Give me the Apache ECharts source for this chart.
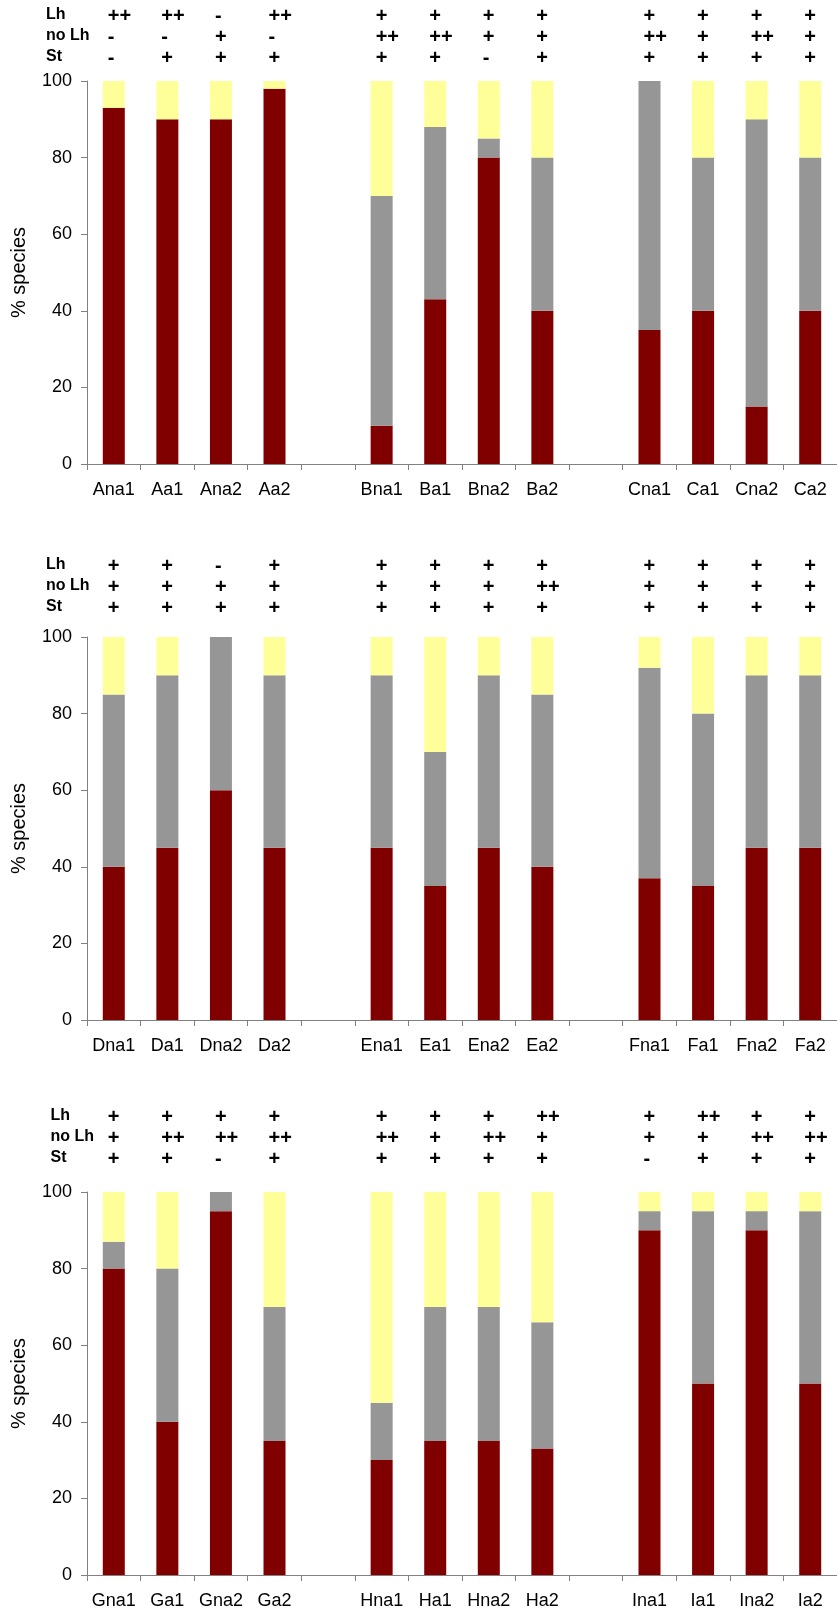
<!DOCTYPE html>
<html>
<head>
<meta charset="utf-8">
<script src="https://cdn.jsdelivr.net/npm/echarts@6/dist/echarts.min.js"></script>
<style>
  html, body { margin: 0; padding: 0; background: #fff; }
  #chart { width: 837px; height: 1613px; }
</style>
</head>
<body>
<div id="chart"></div>
<script>
// Category names per panel; blank entries leave a spacer slot between groups
const categories1 = ['Ana1', 'Aa1', 'Ana2', 'Aa2', ' ', 'Bna1', 'Ba1', 'Bna2', 'Ba2', '  ', 'Cna1', 'Ca1', 'Cna2', 'Ca2'];
const categories2 = ['Dna1', 'Da1', 'Dna2', 'Da2', ' ', 'Ena1', 'Ea1', 'Ena2', 'Ea2', '  ', 'Fna1', 'Fa1', 'Fna2', 'Fa2'];
const categories3 = ['Gna1', 'Ga1', 'Gna2', 'Ga2', ' ', 'Hna1', 'Ha1', 'Hna2', 'Ha2', '  ', 'Ina1', 'Ia1', 'Ina2', 'Ia2'];

// Stacked segment sizes (% species): bottom (dark red), middle (grey), top (yellow)
const red1    = [93, 90, 90, 98, '-', 10, 43, 80, 40, '-', 35, 40, 15, 40];
const grey1   = [0, 0, 0, 0, '-', 60, 45, 5, 40, '-', 65, 40, 75, 40];
const yellow1 = [7, 10, 10, 2, '-', 30, 12, 15, 20, '-', 0, 20, 10, 20];

const red2    = [40, 45, 60, 45, '-', 45, 35, 45, 40, '-', 37, 35, 45, 45];
const grey2   = [45, 45, 40, 45, '-', 45, 35, 45, 45, '-', 55, 45, 45, 45];
const yellow2 = [15, 10, 0, 10, '-', 10, 30, 10, 15, '-', 8, 20, 10, 10];

const red3    = [80, 40, 95, 35, '-', 30, 35, 35, 33, '-', 90, 50, 90, 50];
const grey3   = [7, 40, 5, 35, '-', 15, 35, 35, 33, '-', 5, 45, 5, 45];
const yellow3 = [13, 20, 0, 30, '-', 55, 30, 30, 34, '-', 5, 5, 5, 5];

// Symbol rows above each bar (Lh / no Lh / St), one entry per category slot
const lh1   = ['++', '++', '-', '++', '', '+', '+', '+', '+', '', '+', '+', '+', '+'];
const noLh1 = ['-', '-', '+', '-', '', '++', '++', '+', '+', '', '++', '+', '++', '+'];
const st1   = ['-', '+', '+', '+', '', '+', '+', '-', '+', '', '+', '+', '+', '+'];

const lh2   = ['+', '+', '-', '+', '', '+', '+', '+', '+', '', '+', '+', '+', '+'];
const noLh2 = ['+', '+', '+', '+', '', '+', '+', '+', '++', '', '+', '+', '+', '+'];
const st2   = ['+', '+', '+', '+', '', '+', '+', '+', '+', '', '+', '+', '+', '+'];

const lh3   = ['+', '+', '+', '+', '', '+', '+', '+', '++', '', '+', '++', '+', '+'];
const noLh3 = ['+', '++', '++', '++', '', '++', '+', '++', '+', '', '+', '+', '++', '++'];
const st3   = ['+', '+', '-', '+', '', '+', '+', '+', '+', '', '-', '+', '+', '+'];

const yTicks = [0, 20, 40, 60, 80, 100];
const rowNames = ['Lh', 'no Lh', 'St'];

const FONT = "'Liberation Sans', Arial, sans-serif";
const AXIS_GREY = '#808080';
const COLORS = ['#800000', '#969696', '#FFFF99'];

const panels = [
  { cats: categories1, red: red1, grey: grey1, yellow: yellow1, rows: [lh1, noLh1, st1], top: 81, rowOffsets: [-65, -44, -23], labelX: 46 },
  { cats: categories2, red: red2, grey: grey2, yellow: yellow2, rows: [lh2, noLh2, st2], top: 637, rowOffsets: [-71, -50, -29], labelX: 46 },
  { cats: categories3, red: red3, grey: grey3, yellow: yellow3, rows: [lh3, noLh3, st3], top: 1192, rowOffsets: [-75, -54, -33], labelX: 50.5 }
];
const PLOT_H = 383;

const grids = [], xAxes = [], yAxes = [], series = [], graphics = [];

panels.forEach((p, k) => {
  grids.push({ left: 87, top: p.top, width: 751, height: PLOT_H, containLabel: false });
  xAxes.push({
    type: 'category', gridIndex: k, data: p.cats,
    axisLine: { lineStyle: { color: AXIS_GREY, width: 1 } },
    axisTick: { show: true, length: 6, interval: 0, lineStyle: { color: AXIS_GREY } },
    axisLabel: { interval: 0, color: '#000', fontFamily: FONT, fontSize: 18, margin: 17 },
    splitLine: { show: false }
  });
  yAxes.push({
    type: 'value', gridIndex: k, min: yTicks[0], max: yTicks[yTicks.length - 1], interval: 20,
    name: '% species', nameLocation: 'middle', nameGap: 58, nameRotate: 90,
    nameTextStyle: { color: '#000', fontFamily: FONT, fontSize: 20 },
    axisLine: { show: true, lineStyle: { color: AXIS_GREY, width: 1 } },
    axisTick: { show: true, length: 6, lineStyle: { color: AXIS_GREY } },
    axisLabel: { color: '#000', fontFamily: FONT, fontSize: 18, margin: 15 },
    splitLine: { show: false }
  });
  [p.red, p.grey, p.yellow].forEach((vals, s) => {
    series.push({
      type: 'bar', xAxisIndex: k, yAxisIndex: k, stack: 'panel' + k,
      data: vals, barWidth: 22, itemStyle: { color: COLORS[s] },
      silent: true, animation: false
    });
  });
  // symbol rows drawn above each bar, positioned from the axes' coordinates
  const symData = [];
  p.cats.forEach((c, i) => { if (p.rows[0][i] !== '') symData.push([i, 100, i]); });
  series.push({
    type: 'custom', xAxisIndex: k, yAxisIndex: k, data: symData, silent: true, animation: false, clip: false,
    encode: { x: 0, y: 1 },
    renderItem: function (params, api) {
      const pt = api.coord([api.value(0), api.value(1)]);
      const idx = api.value(2);
      return {
        type: 'group',
        children: p.rows.map((row, r) => ({
          type: 'text',
          style: {
            text: row[idx], x: pt[0] - 6, y: pt[1] + p.rowOffsets[r],
            align: 'left', verticalAlign: 'middle',
            font: 'bold 20px ' + FONT, fill: '#000'
          }
        }))
      };
    }
  });
  rowNames.forEach((nm, r) => {
    graphics.push({
      type: 'text', left: p.labelX, top: p.top + p.rowOffsets[r] - 9,
      style: { text: nm, font: 'bold 16px ' + FONT, fill: '#000' }
    });
  });
});

const chart = echarts.init(document.getElementById('chart'), null, { renderer: 'canvas' });
chart.setOption({
  animation: false,
  backgroundColor: '#fff',
  grid: grids, xAxis: xAxes, yAxis: yAxes, series: series, graphic: graphics
});
</script>
</body>
</html>
